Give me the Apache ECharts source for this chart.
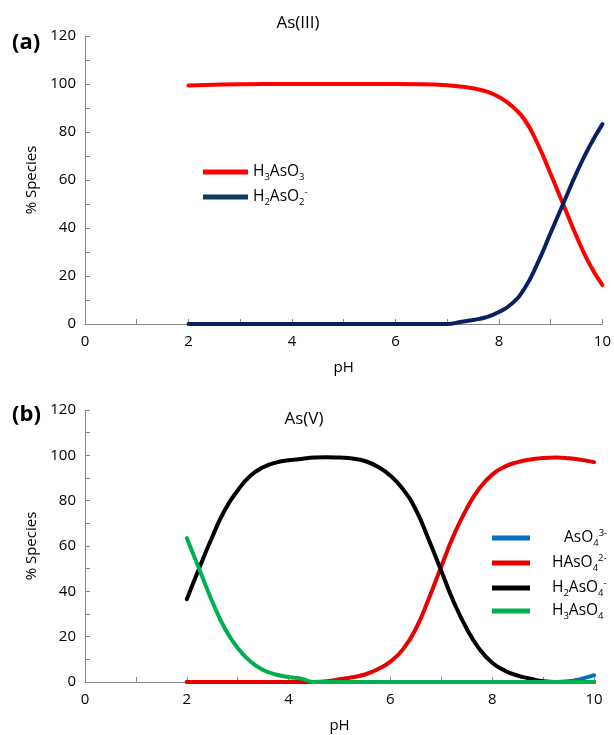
<!DOCTYPE html>
<html><head><meta charset="utf-8">
<script src="https://cdn.jsdelivr.net/npm/echarts@6/dist/echarts.min.js"></script>
<style>html,body{margin:0;padding:0;background:#fff}#c{width:614px;height:735px}</style>
</head><body><div id="c"></div>
<script>
// ---- Data: panel (a) As(III) ----
const pHA = [2, 2.5, 3, 4, 5, 6, 6.5, 7, 7.25, 7.5, 7.75, 8, 8.25, 8.5, 8.75, 9, 9.25, 9.5, 9.75, 10];
const H3AsO3 = [99.4, 99.7, 99.9, 100, 100, 100, 99.9, 99.5, 99, 98.2, 96.9, 94.6, 90.8, 85, 75, 62.5, 49.5, 36.5, 25, 16.2];
const H2AsO2 = [0, 0, 0, 0, 0, 0, 0, 0, 0.8, 1.7, 2.8, 5, 8.5, 15, 25.5, 38, 50.5, 63, 74, 83.3];

// ---- Data: panel (b) As(V) ----
const pHB = [2, 2.25, 2.5, 2.75, 3, 3.25, 3.5, 3.75, 4, 4.25, 4.5, 4.75, 5, 5.25, 5.5, 5.75, 6, 6.25, 6.5, 6.75, 7, 7.25, 7.5, 7.75, 8, 8.25, 8.5, 8.75, 9, 9.25, 9.5, 9.75, 10];
const AsO4 = [0, 0, 0, 0, 0, 0, 0, 0, 0, 0, 0, 0, 0, 0, 0, 0, 0, 0, 0, 0, 0, 0, 0, 0, 0, 0, 0, 0, 0, 0, 0.3, 1.4, 3];
const HAsO4 = [0, 0, 0, 0, 0, 0, 0, 0, 0, 0, 0, 0.3, 1.2, 2.1, 3.3, 5.6, 9, 14.5, 23.5, 36.5, 51, 65, 76.5, 85.5, 91.5, 95, 97, 98.2, 98.8, 99, 98.7, 98, 97];
const H2AsO4 = [36.5, 50.5, 64, 76, 84.5, 91, 94.7, 96.8, 97.8, 98.4, 99, 99.2, 99, 98.6, 97.5, 95, 91, 85, 76, 63, 49, 35, 23.5, 14.5, 8.5, 5, 2.8, 1.5, 0.3, 0, 0, 0, 0];
const H3AsO4 = [63.5, 49.5, 35.5, 23.5, 15, 9, 5.3, 3.3, 2.2, 1.5, 0, 0, 0, 0, 0, 0, 0, 0, 0, 0, 0, 0, 0, 0, 0, 0, 0, 0, 0, 0, 0, 0, 0];

const namesA = ['H3AsO3', 'H2AsO2-'];
const namesB = ['AsO4 3-', 'HAsO4 2-', 'H2AsO4-', 'H3AsO4'];
const richLabel = {
  'H3AsO3': '{n|H}{sub|3}{n|AsO}{sub|3}',
  'H2AsO2-': '{n|H}{sub|2}{n|AsO}{sub|2}{sup|-}',
  'AsO4 3-': '{ind|}{n|AsO}{sub|4}{sup|3-}',
  'HAsO4 2-': '{n|HAsO}{sub|4}{sup|2-}',
  'H2AsO4-': '{n|H}{sub|2}{n|AsO}{sub|4}{sup|-}',
  'H3AsO4': '{n|H}{sub|3}{n|AsO}{sub|4}'
};

const FONT = '"Open Sans", "Liberation Sans", sans-serif';
const zip = (xs, ys) => xs.map((x, i) => [x, ys[i]]);
const axisGray = '#868686';

function xAx(gi) {
  return {
    type: 'value', gridIndex: gi, min: 0, max: 10, interval: 1,
    name: 'pH', nameLocation: 'middle', nameGap: 36,
    nameTextStyle: { fontFamily: FONT, fontSize: 15, color: '#000' },
    axisLine: { show: true, onZero: false, lineStyle: { color: axisGray, width: 1 } },
    axisTick: { show: true, inside: true, length: 5, lineStyle: { color: axisGray } },
    axisLabel: { margin: 10, fontFamily: FONT, fontSize: 15, color: '#000',
      formatter: v => (Math.round(v) % 2 === 0 ? String(v) : '') },
    splitLine: { show: false }
  };
}
function yAx(gi) {
  return {
    type: 'value', gridIndex: gi, min: 0, max: 120, interval: 10,
    name: '% Species', nameLocation: 'middle', nameGap: 44,
    nameTextStyle: { fontFamily: FONT, fontSize: 15, color: '#000' },
    axisLine: { show: true, lineStyle: { color: axisGray, width: 1 } },
    axisTick: { show: true, inside: true, length: 5, lineStyle: { color: axisGray } },
    axisLabel: { margin: 9, fontFamily: FONT, fontSize: 15, color: '#000',
      formatter: v => (Math.round(v) % 20 === 0 ? String(v) : '') },
    splitLine: { show: false }
  };
}
const rich = {
  n: { fontFamily: FONT, fontSize: 15.5, color: '#000', lineHeight: 20, verticalAlign: 'middle' },
  sub: { fontFamily: FONT, fontSize: 9.5, color: '#000', lineHeight: 10, verticalAlign: 'bottom' },
  sup: { fontFamily: FONT, fontSize: 9.5, color: '#000', lineHeight: 10, verticalAlign: 'top' },
  ind: { width: 12, lineHeight: 20 }
};
function line(name, xs, ys, color, gi) {
  return {
    type: 'line', name, xAxisIndex: gi, yAxisIndex: gi, data: zip(xs, ys),
    smooth: 0.5, symbol: 'none', showSymbol: false,
    lineStyle: { color, width: 4, cap: 'round', join: 'round' }, itemStyle: { color },
    animation: false
  };
}

const chart = echarts.init(document.getElementById('c'), null, { renderer: 'canvas' });
chart.setOption({
  backgroundColor: '#fff',
  animation: false,
  grid: [
    { left: 85, top: 36, width: 520, height: 288 },
    { left: 85, top: 410, width: 509, height: 272 }
  ],
  xAxis: [xAx(0), xAx(1)],
  yAxis: [yAx(0), yAx(1)],
  legend: [
    { orient: 'vertical', left: 198, top: 159, itemWidth: 45, itemHeight: 5, itemGap: 5,
      icon: 'rect', data: [
        { name: namesA[0], itemStyle: { color: '#FF0000' } },
        { name: namesA[1], itemStyle: { color: '#0E3C60' } }
      ],
      formatter: n => richLabel[n], textStyle: { rich } },
    { orient: 'vertical', left: 487, top: 523, itemWidth: 38, itemHeight: 5, itemGap: 5,
      icon: 'rect', data: namesB,
      formatter: n => richLabel[n], textStyle: { rich, padding: [0, 0, 0, 17] } }
  ],
  graphic: [
    { type: 'text', x: 12, y: 43, style: { text: '(a)', fontFamily: FONT, fontSize: 22, fontWeight: 'bold', fill: '#000', align: 'left', verticalAlign: 'middle' } },
    { type: 'text', x: 12, y: 415, style: { text: '(b)', fontFamily: FONT, fontSize: 22, fontWeight: 'bold', fill: '#000', align: 'left', verticalAlign: 'middle' } },
    { type: 'text', x: 298, y: 23, style: { text: 'As(III)', fontFamily: FONT, fontSize: 17, fill: '#000', align: 'center', verticalAlign: 'middle' } },
    { type: 'text', x: 304, y: 419, style: { text: 'As(V)', fontFamily: FONT, fontSize: 17, fill: '#000', align: 'center', verticalAlign: 'middle' } }
  ],
  series: [
    line(namesA[0], pHA, H3AsO3, '#FF0000', 0),
    line(namesA[1], pHA, H2AsO2, '#0A1F62', 0),
    line(namesB[0], pHB, AsO4, '#0070C0', 1),
    line(namesB[1], pHB, HAsO4, '#E60000', 1),
    line(namesB[2], pHB, H2AsO4, '#000000', 1),
    line(namesB[3], pHB, H3AsO4, '#00B050', 1)
  ]
});
</script></body></html>
